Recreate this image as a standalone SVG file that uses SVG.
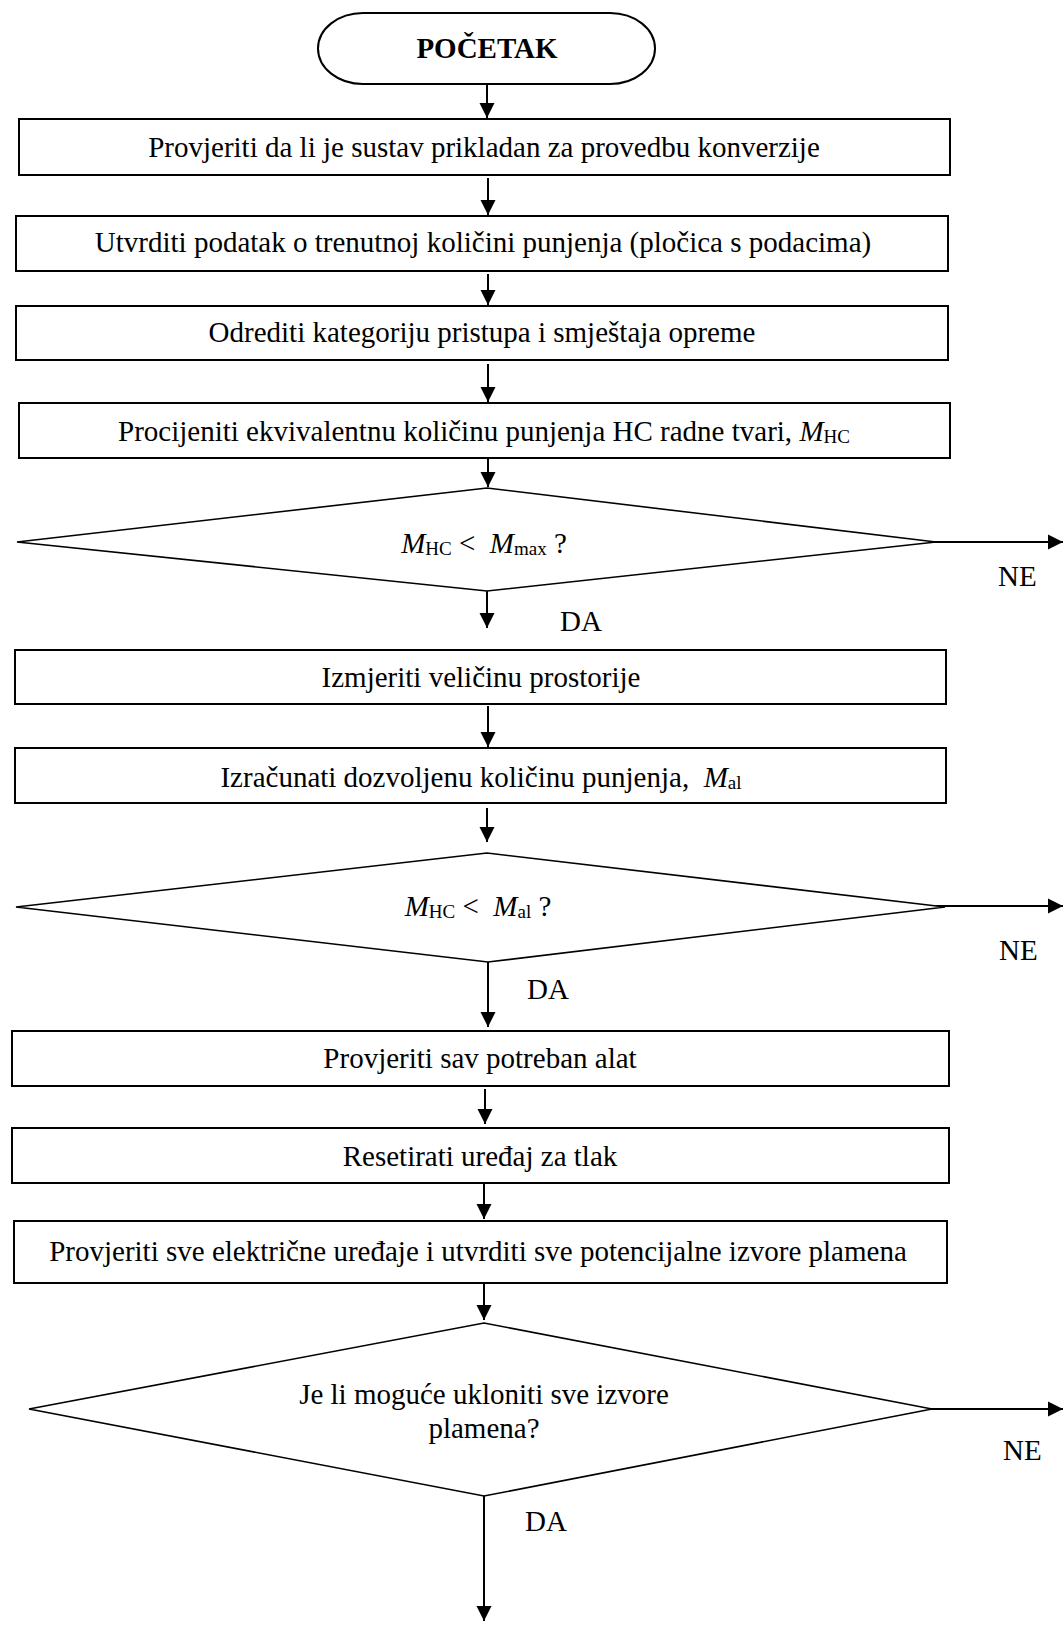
<svg xmlns="http://www.w3.org/2000/svg" width="1064" height="1650" viewBox="0 0 1064 1650">
<style>
  .t { font-family: "Liberation Serif", "Times New Roman", serif; font-size: 29px; fill: #000; }
  .c { text-anchor: middle; }
  .b { font-weight: bold; }
  .i { font-style: italic; }
  .s { font-size: 19px; }
  .box { fill: #fff; stroke: #000; stroke-width: 2; }
  .dia { fill: #fff; stroke: #000; stroke-width: 1.6; }
  .ln { fill: none; stroke: #000; stroke-width: 2; }
</style>
<defs>
  <marker id="ah" markerUnits="userSpaceOnUse" markerWidth="16" markerHeight="16" refX="15" refY="8" orient="auto">
    <path d="M0,0.5 L15,8 L0,15.5 z" fill="#000"/>
  </marker>
</defs>
<rect x="0" y="0" width="1064" height="1650" fill="#fff"/>

<g id="connectors">
  <line class="ln" x1="487" y1="84" x2="487" y2="118" marker-end="url(#ah)"/>
  <line class="ln" x1="488" y1="178" x2="488" y2="215" marker-end="url(#ah)"/>
  <line class="ln" x1="488" y1="274" x2="488" y2="305" marker-end="url(#ah)"/>
  <line class="ln" x1="488" y1="364" x2="488" y2="402" marker-end="url(#ah)"/>
  <line class="ln" x1="488" y1="459" x2="488" y2="487" marker-end="url(#ah)"/>
  <line class="ln" x1="487" y1="591" x2="487" y2="628" marker-end="url(#ah)"/>
  <line class="ln" x1="488" y1="706" x2="488" y2="747" marker-end="url(#ah)"/>
  <line class="ln" x1="487" y1="808" x2="487" y2="842" marker-end="url(#ah)"/>
  <line class="ln" x1="488" y1="962" x2="488" y2="1027" marker-end="url(#ah)"/>
  <line class="ln" x1="485" y1="1089" x2="485" y2="1124" marker-end="url(#ah)"/>
  <line class="ln" x1="484" y1="1184" x2="484" y2="1219" marker-end="url(#ah)"/>
  <line class="ln" x1="484" y1="1284" x2="484" y2="1320" marker-end="url(#ah)"/>
  <line class="ln" x1="484" y1="1496" x2="484" y2="1621" marker-end="url(#ah)"/>
  <line class="ln" x1="930" y1="542" x2="1063" y2="542" marker-end="url(#ah)"/>
  <line class="ln" x1="930" y1="906" x2="1063" y2="906" marker-end="url(#ah)"/>
  <line class="ln" x1="920" y1="1409" x2="1063" y2="1409" marker-end="url(#ah)"/>
</g>

<g id="start">
  <rect x="318" y="13" width="337" height="71" rx="45" ry="35.5" class="box" stroke-width="1.6"/>
  <text class="t b c" x="487" y="58">POČETAK</text>
</g>

<g id="box1">
  <rect class="box" x="19" y="119" width="931" height="56"/>
  <text class="t c" x="484" y="157">Provjeriti da li je sustav prikladan za provedbu konverzije</text>
</g>
<g id="box2">
  <rect class="box" x="16" y="216" width="932" height="55"/>
  <text class="t c" x="483" y="252">Utvrditi podatak o trenutnoj količini punjenja (pločica s podacima)</text>
</g>
<g id="box3">
  <rect class="box" x="16" y="306" width="932" height="54"/>
  <text class="t c" x="482" y="342">Odrediti kategoriju pristupa i smještaja opreme</text>
</g>
<g id="box4">
  <rect class="box" x="19" y="403" width="931" height="55"/>
  <text class="t c" x="484" y="441">Procijeniti ekvivalentnu količinu punjenja HC radne tvari, <tspan class="i">M</tspan><tspan class="s" dy="2">HC</tspan></text>
</g>

<g id="decision1">
  <polygon class="dia" points="17,542 487,488 936,542 487,591"/>
  <text class="t c" x="484" y="553"><tspan class="i">M</tspan><tspan class="s" dy="2">HC</tspan><tspan dy="-2">&#160;&lt;&#160;&#160;</tspan><tspan class="i">M</tspan><tspan class="s" dy="2">max</tspan><tspan dy="-2">&#160;?</tspan></text>
  <text class="t" x="998" y="586">NE</text>
  <text class="t" x="560" y="631">DA</text>
</g>

<g id="box5">
  <rect class="box" x="15" y="650" width="931" height="54"/>
  <text class="t c" x="481" y="687">Izmjeriti veličinu prostorije</text>
</g>
<g id="box6">
  <rect class="box" x="15" y="748" width="931" height="55"/>
  <text class="t c" x="481" y="787">Izračunati dozvoljenu količinu punjenja,&#160; <tspan class="i">M</tspan><tspan class="s" dy="2">al</tspan></text>
</g>

<g id="decision2">
  <polygon class="dia" points="16,907 487,853 945,907 488,962"/>
  <text class="t c" x="478" y="916"><tspan class="i">M</tspan><tspan class="s" dy="2">HC</tspan><tspan dy="-2">&#160;&lt;&#160;&#160;</tspan><tspan class="i">M</tspan><tspan class="s" dy="2">al</tspan><tspan dy="-2">&#160;?</tspan></text>
  <text class="t" x="999" y="960">NE</text>
  <text class="t" x="527" y="999">DA</text>
</g>

<g id="box7">
  <rect class="box" x="12" y="1031" width="937" height="55"/>
  <text class="t c" x="480" y="1068">Provjeriti sav potreban alat</text>
</g>
<g id="box8">
  <rect class="box" x="12" y="1128" width="937" height="55"/>
  <text class="t c" x="480" y="1166">Resetirati uređaj za tlak</text>
</g>
<g id="box9">
  <rect class="box" x="14" y="1221" width="933" height="62"/>
  <text class="t c" x="478" y="1261">Provjeriti sve električne uređaje i utvrditi sve potencijalne izvore plamena</text>
</g>

<g id="decision3">
  <polygon class="dia" points="29,1409 484,1323 932,1409 484,1496"/>
  <text class="t c" x="484" y="1404">Je li moguće ukloniti sve izvore</text>
  <text class="t c" x="484" y="1438">plamena?</text>
  <text class="t" x="1003" y="1460">NE</text>
  <text class="t" x="525" y="1531">DA</text>
</g>
</svg>
